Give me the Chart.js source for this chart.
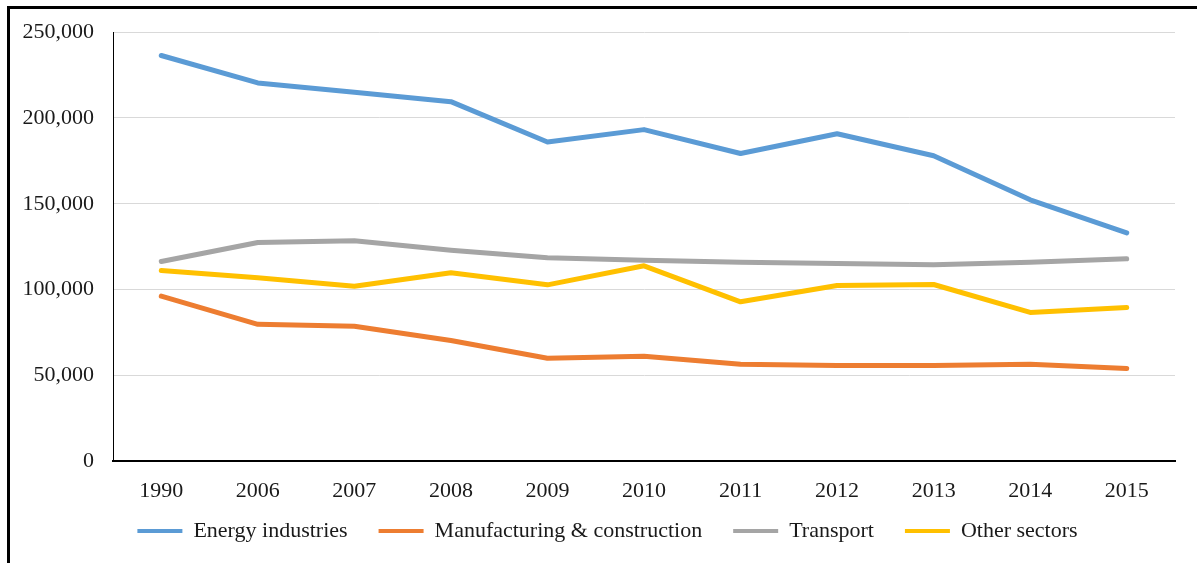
<!DOCTYPE html>
<html>
<head>
<meta charset="utf-8">
<script src="https://cdn.jsdelivr.net/npm/chart.js@4/dist/chart.umd.min.js"></script>
<style>
  html, body { margin: 0; padding: 0; background: #fff; }
  #wrap { position: relative; width: 1197px; height: 563px; overflow: hidden; }
  #frame { position: absolute; left: 7px; top: 6px; right: -10px; bottom: -10px;
           border-top: 3px solid #000; border-left: 3px solid #000; pointer-events: none; }
  canvas { position: absolute; left: 0; top: 0; }
</style>
</head>
<body>
<div id="wrap">
  <canvas id="c" width="1197" height="563"></canvas>
  <div id="frame"></div>
</div>
<script>
// Emissions by sector (values in the same units as the axis)
const years = ['1990', '2006', '2007', '2008', '2009', '2010', '2011', '2012', '2013', '2014', '2015'];
const energyIndustries = [236400, 220400, 215000, 209500, 186000, 193200, 179300, 190800, 178000, 152300, 133000];
const manufacturing = [96100, 79700, 78600, 70300, 59900, 61100, 56400, 55700, 55700, 56400, 53900];
const transport = [116300, 127400, 128400, 122900, 118500, 117100, 115900, 115200, 114400, 115900, 117900];
const otherSectors = [111100, 106800, 101900, 109700, 102700, 113800, 92800, 102300, 102900, 86600, 89500];
const yTicks = [0, 50000, 100000, 150000, 200000, 250000];

const seriesNames = ['Energy industries', 'Manufacturing & construction', 'Transport', 'Other sectors'];
const seriesColors = ['#5B9BD5', '#ED7D31', '#A5A5A5', '#FFC000'];
const seriesValues = [energyIndustries, manufacturing, transport, otherSectors];

const serif = 'Liberation Serif, Times New Roman, serif';
const textColor = '#1a1a1a';

const datasets = seriesValues.map((vals, i) => ({
  label: seriesNames[i],
  data: vals,
  borderColor: seriesColors[i],
  backgroundColor: seriesColors[i],
  borderWidth: 5,
  pointRadius: 0,
  tension: 0,
  borderCapStyle: 'round',
  borderJoinStyle: 'round',
  fill: false
}));

// Moves the legend row a little right and up after the layout pass
const legendNudge = {
  id: 'legendNudge',
  afterLayout(chart) {
    const lg = chart.legend;
    if (!lg) return;
    lg.left += 40;
    lg.top -= 11;
    lg.bottom -= 11;
  }
};

new Chart(document.getElementById('c'), {
  type: 'line',
  data: { labels: years, datasets },
  plugins: [legendNudge],
  options: {
    responsive: false,
    animation: false,
    layout: { padding: { left: 0, right: 22, top: 32, bottom: 0 } },
    plugins: {
      tooltip: { enabled: false },
      legend: {
        position: 'bottom',
        labels: {
          font: { family: serif, size: 22 },
          color: textColor,
          boxWidth: 45,
          boxHeight: 4,
          padding: 31,
          generateLabels: (chart) => chart.data.datasets.map((ds, i) => ({
            text: ds.label,
            fillStyle: ds.borderColor,
            strokeStyle: ds.borderColor,
            lineWidth: 0,
            fontColor: textColor,
            datasetIndex: i
          }))
        }
      }
    },
    scales: {
      x: {
        offset: true,
        afterFit: (scale) => { scale.height = 39; },
        grid: { display: false, drawTicks: false },
        border: { display: true, color: '#000', width: 2 },
        ticks: { font: { family: serif, size: 22 }, color: textColor, padding: 17, maxRotation: 0 }
      },
      y: {
        min: 0,
        max: 250000,
        afterFit: (scale) => { scale.width = 113; },
        afterBuildTicks: (scale) => { scale.ticks = yTicks.map(v => ({ value: v })); },
        grid: { color: '#d9d9d9', lineWidth: 1, drawTicks: false },
        border: { display: true, color: '#000', width: 1 },
        ticks: {
          font: { family: serif, size: 22 },
          color: textColor,
          padding: 19,
          callback: (v) => v.toLocaleString('en-US')
        }
      }
    }
  }
});
</script>
</body>
</html>
